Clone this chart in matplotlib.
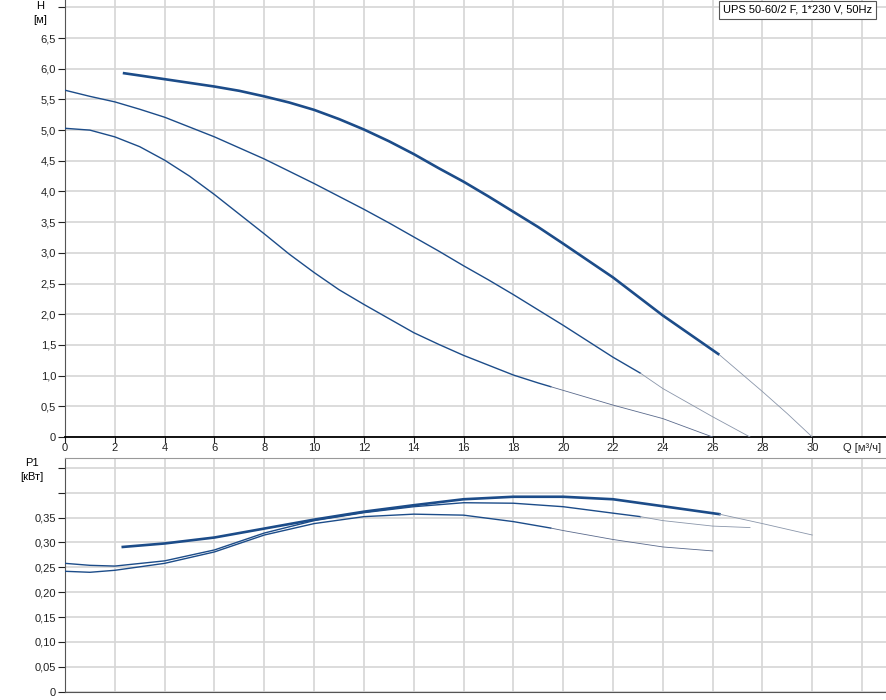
import matplotlib
matplotlib.use("Agg")
import matplotlib.pyplot as plt

plt.rcParams['font.family'] = ['Liberation Sans', 'DejaVu Sans']
plt.rcParams['font.size'] = 8

# H(Q) curves, solid part + thin continuation
q1 = [2.32, 3, 4, 5, 6, 7, 8, 9, 10, 11, 12, 13, 14, 15, 16, 17, 18, 19, 20, 22, 24, 26.27]
h1 = [5.93, 5.89, 5.83, 5.77, 5.71, 5.64, 5.55, 5.45, 5.33, 5.18, 5.01, 4.82, 4.61, 4.38,
      4.16, 3.92, 3.67, 3.42, 3.15, 2.60, 1.98, 1.34]
q1_ext = [26.27, 28, 29, 30]
h1_ext = [1.34, 0.74, 0.38, 0]

q2 = [0, 1, 2, 3, 4, 5, 6, 7, 8, 9, 10, 11, 12, 13, 14, 15, 16, 17, 18, 19, 20, 21, 22, 23.1]
h2 = [5.65, 5.55, 5.46, 5.34, 5.21, 5.05, 4.89, 4.71, 4.53, 4.33, 4.13, 3.92, 3.71, 3.49,
      3.26, 3.03, 2.79, 2.56, 2.32, 2.07, 1.82, 1.56, 1.30, 1.04]
q2_ext = [23.1, 24, 26, 27.5]
h2_ext = [1.04, 0.79, 0.33, 0]

q3 = [0, 1, 2, 3, 4, 5, 6, 7, 8, 9, 10, 11, 12, 13, 14, 15, 16, 17, 18, 19, 19.5]
h3 = [5.03, 5.0, 4.89, 4.73, 4.51, 4.25, 3.95, 3.63, 3.31, 2.98, 2.68, 2.40, 2.16, 1.93,
      1.70, 1.51, 1.33, 1.17, 1.01, 0.88, 0.82]
q3_ext = [19.5, 20, 22, 24, 26]
h3_ext = [0.82, 0.76, 0.52, 0.30, 0]

# P1(Q) curves
p1_q = [2.32, 4, 6, 8, 10, 12, 14, 16, 18, 20, 22, 24, 26.27]
p1 = [0.291, 0.298, 0.310, 0.328, 0.346, 0.362, 0.375, 0.387, 0.392, 0.392, 0.387, 0.373, 0.357]
p1_ext_q = [26.27, 28, 30]
p1_ext = [0.357, 0.338, 0.315]

p2_q = [0, 1, 2, 4, 6, 8, 10, 12, 14, 16, 18, 20, 22, 23.1]
p2 = [0.258, 0.254, 0.2525, 0.263, 0.285, 0.319, 0.344, 0.360, 0.372, 0.380, 0.379, 0.372, 0.359, 0.352]
p2_ext_q = [23.1, 24, 26, 27.5]
p2_ext = [0.352, 0.344, 0.333, 0.330]

p3_q = [0, 1, 2, 4, 6, 8, 10, 12, 14, 16, 18, 19.5]
p3 = [0.242, 0.240, 0.244, 0.258, 0.281, 0.315, 0.338, 0.352, 0.357, 0.355, 0.342, 0.329]
p3_ext_q = [19.5, 20, 22, 24, 26]
p3_ext = [0.329, 0.324, 0.306, 0.291, 0.283]

h_ticks = [0, 0.5, 1, 1.5, 2, 2.5, 3, 3.5, 4, 4.5, 5, 5.5, 6, 6.5, 7]
h_labels = ["0", "0,5", "1,0", "1,5", "2,0", "2,5", "3,0", "3,5", "4,0", "4,5",
            "5,0", "5,5", "6,0", "6,5", ""]
p_ticks = [0, 0.05, 0.1, 0.15, 0.2, 0.25, 0.3, 0.35, 0.4, 0.45]
p_labels = ["0", "0,05", "0,10", "0,15", "0,20", "0,25", "0,30", "0,35", "", ""]
q_ticks = list(range(0, 34, 2))
q_labels = [str(q) for q in range(0, 32, 2)] + ["Q [м³/ч]"]

navy = "#1c4c89"
thin = "#8a96aa"
grid = "#d6d6d6"

fig = plt.figure(figsize=(8.87, 7.0), dpi=100)
ax1 = fig.add_axes([0.0733, 0.3757, 0.9267, 0.6243])
ax2 = fig.add_axes([0.0733, 0.0121, 0.9267, 0.3336])

# top: head
ax1.plot(q1, h1, color=navy, lw=1.9, solid_capstyle="butt", zorder=3)
ax1.plot(q1_ext, h1_ext, color=thin, lw=0.6, zorder=3)
ax1.plot(q2, h2, color=navy, lw=1.0, zorder=3)
ax1.plot(q2_ext, h2_ext, color=thin, lw=0.6, zorder=3)
ax1.plot(q3, h3, color=navy, lw=1.0, zorder=3)
ax1.plot(q3_ext, h3_ext, color="#5a6a8c", lw=0.6, zorder=3)

ax1.set_xlim(0, 33)
ax1.set_ylim(0, 7.12)
ax1.set_yticks(h_ticks)
ax1.set_yticklabels(h_labels)
ax1.set_xticks(q_ticks)
ax1.set_xticklabels(q_labels)
ax1.xaxis.get_major_ticks()[-1].tick1line.set_visible(False)
ax1.grid(True, color=grid, lw=1.2)
ax1.set_axisbelow(True)
for s in ["top", "right"]:
    ax1.spines[s].set_visible(False)
ax1.spines["left"].set_color("#555555")
ax1.spines["bottom"].set_color("black")
ax1.spines["bottom"].set_linewidth(1.3)
ax1.tick_params(axis="y", length=5, width=0.8, pad=1.5, colors="#222222")
ax1.tick_params(axis="x", length=4, width=0.8, pad=0.5, colors="#222222")

fig.text(723 / 887, 1 - 10 / 700, "UPS 50-60/2 F, 1*230 V, 50Hz",
         ha="left", va="center", fontsize=8,
         bbox=dict(boxstyle="square,pad=0.35", fc="white", ec="#555555", lw=0.8))

fig.text(40 / 887, 1 - 6 / 700, "H", ha="center", va="center", fontsize=8)
fig.text(40 / 887, 1 - 20 / 700, "[м]", ha="center", va="center", fontsize=8)
fig.text(32 / 887, 1 - 463 / 700, "P1", ha="center", va="center", fontsize=8)
fig.text(32 / 887, 1 - 477 / 700, "[кВт]", ha="center", va="center", fontsize=8)

# bottom: power
ax2.plot(p1_q, p1, color=navy, lw=1.9, zorder=3)
ax2.plot(p1_ext_q, p1_ext, color=thin, lw=0.6, zorder=3)
ax2.plot(p2_q, p2, color=navy, lw=1.0, zorder=3)
ax2.plot(p2_ext_q, p2_ext, color=thin, lw=0.6, zorder=3)
ax2.plot(p3_q, p3, color=navy, lw=1.0, zorder=3)
ax2.plot(p3_ext_q, p3_ext, color="#5a6a8c", lw=0.6, zorder=3)

ax2.set_xlim(0, 33)
ax2.set_ylim(0, 0.47)
ax2.set_yticks(p_ticks)
ax2.set_yticklabels(p_labels)
ax2.set_xticks(q_ticks)
ax2.set_xticklabels([])
ax2.tick_params(axis="x", length=0)
ax2.tick_params(axis="y", length=5, width=0.8, pad=1.5, colors="#222222")
ax2.grid(True, color=grid, lw=1.2)
ax2.set_axisbelow(True)
ax2.spines["right"].set_visible(False)
ax2.spines["top"].set_color("#999999")
ax2.spines["left"].set_color("#555555")
ax2.spines["bottom"].set_color("#555555")

fig.savefig("out.png", dpi=100)
